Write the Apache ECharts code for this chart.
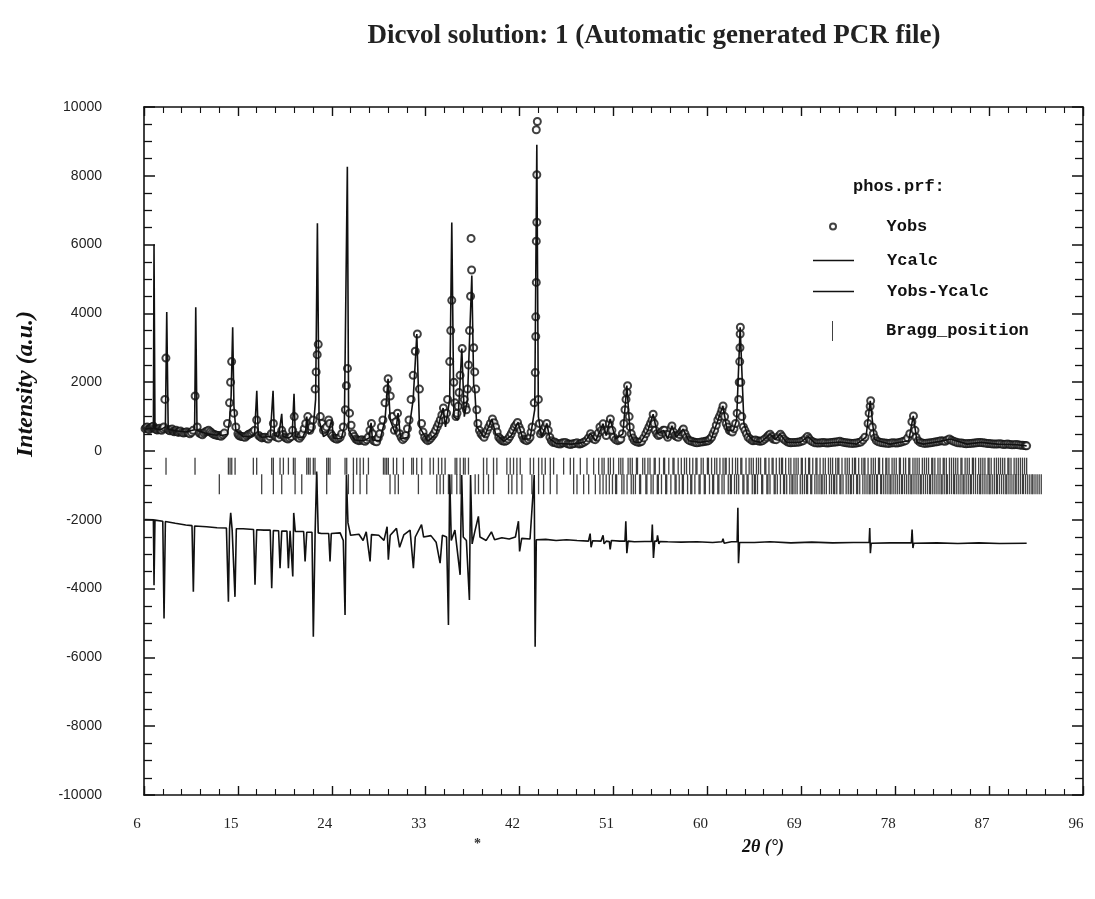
<!DOCTYPE html>
<html>
<head>
<meta charset="utf-8">
<script src="https://cdn.jsdelivr.net/npm/echarts@6/dist/echarts.min.js"></script>
<style>
  html, body { margin: 0; padding: 0; background: #fff; }
  #container { width: 1095px; height: 899px; }
</style>
</head>
<body>
<div id="container"></div>
<script>
// --- values ---
var titleText = 'Dicvol solution: 1 (Automatic generated PCR file)';
var yTicks = [-10000, -8000, -6000, -4000, -2000, 0, 2000, 4000, 6000, 8000, 10000];
var xTicks = [6, 15, 24, 33, 42, 51, 60, 69, 78, 87, 96];

// Yobs points [2theta, intensity]
var yobs = [
  [6.1,650],[6.2,680],[6.3,700],[6.4,640],[6.5,620],[6.6,660],[6.7,690],[6.8,700],[6.9,720],[7.0,660],
  [7.1,640],[7.2,620],[7.3,610],[7.4,640],[7.5,660],[7.6,620],[7.7,600],[7.8,650],[7.9,700],
  [8.0,1500],[8.1,2700],[8.3,620],[8.4,600],[8.5,590],[8.6,620],[8.7,640],[8.8,580],[8.9,560],[9.0,580],
  [9.1,600],[9.2,560],[9.3,540],[9.4,560],[9.5,580],[9.65,540],[9.8,520],[9.95,540],
  [10.1,560],[10.25,530],[10.4,500],[10.55,540],[10.7,600],[10.9,1600],[11.1,700],[11.3,520],[11.45,500],[11.6,470],
  [11.75,520],[11.9,560],[12.05,580],[12.2,600],[12.35,560],[12.5,520],[12.65,490],
  [12.8,470],[12.95,460],[13.1,450],[13.25,440],[13.4,430],[13.55,470],[13.7,520],[14.0,800],[14.2,1400],[14.3,2000],
  [14.4,2600],[14.6,1100],[14.8,700],[15.0,500],
  [15.1,450],[15.25,430],[15.4,420],[15.55,410],[15.7,400],[15.85,440],[16.0,480],[16.15,500],[16.3,520],[16.45,560],
  [16.6,600],[16.8,900],[17.0,450],[17.15,410],[17.3,380],[17.45,390],[17.6,400],[17.75,370],
  [17.9,350],[18.05,420],[18.2,500],[18.4,800],[18.6,420],[18.75,400],[18.9,380],[19.05,480],[19.2,600],[19.35,480],
  [19.5,400],[19.65,370],[19.8,350],[19.95,380],[20.1,420],[20.25,600],[20.4,1000],
  [20.6,450],[20.75,400],[20.9,370],[21.05,430],[21.2,500],[21.35,650],[21.5,800],[21.7,1000],[21.9,600],[22.05,700],
  [22.2,900],[22.4,1800],[22.5,2300],[22.6,2800],
  [22.7,3100],[22.9,1000],[23.05,800],[23.2,600],[23.35,650],[23.5,700],[23.7,900],[23.8,800],[23.9,500],[24.05,440],
  [24.2,380],[24.35,360],[24.5,340],[24.65,370],[24.8,400],[24.95,500],[25.1,700],
  [25.3,1200],[25.4,1900],[25.5,2400],[25.7,1100],[25.85,750],[26.0,500],[26.15,420],[26.3,350],[26.45,320],[26.6,300],
  [26.75,310],[26.9,330],[27.05,300],[27.2,280],[27.35,330],[27.5,400],[27.65,600],
  [27.8,800],[27.9,500],[28.0,300],[28.15,280],[28.3,270],[28.45,380],[28.6,500],[28.75,700],[28.9,900],[29.1,1400],
  [29.3,1800],[29.4,2100],[29.6,1600],[29.8,1000],
  [30.0,600],[30.15,850],[30.3,1100],[30.5,500],[30.65,400],[30.8,330],[30.95,380],[31.1,450],[31.25,650],[31.4,900],
  [31.6,1500],[31.8,2200],[32.0,2900],[32.2,3400],
  [32.4,1800],[32.6,800],[32.75,550],[32.9,400],[33.05,340],[33.2,300],[33.35,330],[33.5,380],[33.65,440],[33.8,500],
  [33.95,600],[34.1,700],[34.25,800],[34.4,900],[34.55,1050],[34.7,1250],[34.9,900],[35.0,1100],
  [35.1,1500],[35.3,2600],[35.4,3500],[35.5,4380],[35.7,2000],[35.8,1400],[35.9,1000],[36.0,1100],[36.1,1300],[36.2,1700],
  [36.3,2200],[36.5,2980],[36.7,1500],[36.8,1300],
  [36.9,1200],[37.0,1800],[37.1,2500],[37.2,3500],[37.3,4500],[37.4,5260],[37.35,6180],[37.6,3000],[37.7,2300],[37.8,1800],
  [37.9,1200],[38.0,800],[38.15,600],[38.3,500],[38.45,450],
  [38.6,400],[38.75,500],[38.9,600],[39.05,700],[39.2,800],[39.4,930],[39.55,820],[39.7,700],[39.85,550],[40.0,400],
  [40.15,350],[40.3,300],[40.45,290],[40.6,280],[40.75,300],[40.9,350],[41.05,420],[41.2,500],
  [41.35,600],[41.5,700],[41.65,760],[41.8,830],[41.95,700],[42.1,600],[42.25,450],[42.4,350],[42.55,320],[42.7,300],
  [42.85,340],[43.0,400],[43.1,550],[43.2,700],[43.4,1400],[43.5,2280],[43.55,3330],
  [43.55,3900],[43.6,4900],[43.6,6100],[43.65,6650],[43.65,8030],[43.6,9340],[43.7,9580],[43.8,1500],[43.9,800],[44.0,500],
  [44.15,550],[44.3,600],[44.45,700],
  [44.6,800],[44.75,600],[44.9,400],[45.05,300],[45.2,250],[45.35,260],[45.5,230],[45.7,210],[45.9,200],[46.05,230],
  [46.2,240],[46.4,250],[46.6,210],[46.75,200],[46.9,190],[47.1,210],[47.3,220],[47.5,240],[47.7,200],[47.85,210],
  [48.0,230],[48.2,260],[48.4,300],[48.6,380],[48.8,500],[48.95,420],[49.1,350],[49.25,330],[49.4,400],[49.55,520],
  [49.7,700],[49.85,600],[50.0,790],[50.15,550],[50.3,450],[50.45,600],[50.6,800],[50.7,930],[50.85,600],
  [51.0,400],[51.2,330],[51.4,300],[51.55,320],[51.7,350],[51.85,500],[52.0,800],[52.1,1200],[52.2,1500],[52.3,1700],
  [52.35,1900],[52.5,1000],[52.6,700],[52.7,500],[52.85,380],
  [53.0,300],[53.2,270],[53.4,250],[53.55,260],[53.7,280],[53.9,380],[54.1,500],[54.25,600],[54.4,700],[54.55,800],
  [54.7,900],[54.8,1070],[54.9,800],[55.0,600],[55.15,500],[55.3,450],[55.45,480],[55.6,550],[55.75,600],
  [55.9,600],[56.05,480],[56.2,400],[56.35,500],[56.5,650],[56.6,730],[56.75,550],[56.9,450],[57.05,420],[57.2,400],
  [57.35,480],[57.5,550],[57.6,600],[57.7,640],[57.85,500],[58.0,400],[58.15,330],[58.3,300],[58.5,280],
  [58.7,260],[58.85,250],[59.0,240],[59.2,250],[59.4,260],[59.6,270],[59.8,280],[59.95,290],[60.1,300],[60.25,350],
  [60.4,400],[60.55,500],[60.7,600],[60.85,750],[61.0,900],[61.15,1000],[61.3,1100],[61.4,1200],[61.5,1310],
  [61.65,1000],[61.8,800],[61.95,700],[62.1,600],[62.25,580],[62.4,550],[62.55,650],[62.7,800],[62.85,1100],[63.0,1500],
  [63.05,2000],[63.1,2600],[63.12,3000],[63.14,3400],[63.16,3600],[63.2,2000],
  [63.3,1000],[63.45,700],[63.6,600],[63.75,500],[63.9,400],[64.1,350],[64.3,300],[64.45,300],[64.6,320],[64.8,300],
  [65.0,280],[65.15,290],[65.3,300],[65.5,350],[65.7,400],[65.85,450],[66.0,490],[66.15,420],[66.3,350],[66.45,340],
  [66.6,330],[66.8,420],[67.0,490],[67.15,420],[67.3,350],[67.5,300],[67.7,260],[67.85,250],[68.0,240],[68.2,245],
  [68.4,250],[68.6,255],[68.8,260],[69.0,280],[69.2,300],[69.4,360],[69.6,420],[69.75,360],[69.9,300],[70.1,270],
  [70.3,240],[70.5,235],[70.7,230],[70.9,240],[71.1,250],[71.3,240],[71.5,230],[71.7,240],[71.9,250],[72.1,255],
  [72.3,260],[72.5,270],[72.7,280],[72.9,265],[73.1,250],[73.3,240],[73.5,230],[73.7,225],[73.9,220],[74.1,225],
  [74.3,230],[74.5,245],[74.7,260],[74.9,320],[75.1,400],[75.4,800],[75.5,1100],[75.6,1300],[75.65,1460],[75.8,700],
  [75.9,500],[76.05,380],[76.2,300],[76.4,270],[76.6,250],[76.8,240],
  [77.0,230],[77.2,225],[77.4,220],[77.6,230],[77.8,240],[78.0,235],[78.2,230],[78.4,245],[78.6,260],[78.8,280],
  [79.0,300],[79.2,380],[79.4,500],[79.6,850],[79.75,1020],[79.9,600],[80.0,400],[80.2,300],
  [80.4,250],[80.6,235],[80.8,220],[81.0,225],[81.2,230],[81.4,240],[81.6,250],[81.8,260],[82.0,270],[82.2,285],
  [82.4,300],[82.6,290],[82.8,280],[83.0,320],[83.2,350],[83.4,310],[83.6,280],[83.8,260],[84.0,240],[84.2,235],
  [84.4,230],[84.6,220],[84.8,210],[85.0,215],[85.2,220],[85.4,225],[85.6,230],[85.8,240],[86.0,250],[86.2,245],
  [86.4,240],[86.6,230],[86.8,220],[87.0,215],[87.2,210],[87.4,205],[87.6,200],[87.8,205],[88.0,210],[88.2,200],
  [88.4,190],[88.6,195],[88.8,200],[89.0,190],[89.2,180],[89.4,185],[89.6,190],[89.8,180],[90.0,170],[90.2,165],
  [90.4,160],[90.5,155],[90.6,150]
];

// Ycalc profile vertices [2theta, intensity]
var ycalc = [
  [6.1,640],[6.9,660],[6.96,6000],[7.05,650],[7.6,620],[8.05,700],[8.18,4040],[8.32,640],[9.0,590],[10.0,550],
  [10.85,620],[10.96,4180],[11.08,600],[12.0,500],[13.0,460],[13.2,520],[13.35,450],[14.0,480],[14.2,900],[14.35,1600],
  [14.5,3600],[14.62,1300],[14.8,600],[15.5,420],[16.3,430],[16.6,500],[16.81,1750],[16.95,480],[17.3,400],[18.1,420],
  [18.37,1750],[18.5,450],[18.9,420],[19.2,1080],[19.32,420],[19.9,380],[20.2,450],[20.38,1660],[20.5,420],[21.2,380],
  [21.5,600],[21.6,1000],[21.75,500],[22.2,600],[22.45,1500],[22.62,6620],[22.78,900],[23.2,420],[23.6,500],[24.0,900],
  [24.15,380],[24.9,350],[25.2,700],[25.49,8260],[25.62,600],[26.2,320],[27.0,300],[27.6,380],[27.76,820],[27.9,320],
  [28.6,300],[29.1,900],[29.39,2100],[29.6,900],[30.1,500],[30.35,1100],[30.6,350],[31.3,400],[31.8,1500],[32.15,3400],
  [32.4,700],[33.2,280],[34.0,500],[34.67,1250],[34.9,700],[35.3,1500],[35.5,6640],[35.7,1000],[36.1,900],[36.46,2980],
  [36.7,1000],[37.0,1500],[37.42,5100],[37.6,1900],[37.7,1800],[37.9,700],[38.6,400],[39.34,930],[39.7,500],[40.5,280],
  [41.2,450],[41.86,830],[42.3,350],[43.0,350],[43.45,1200],[43.65,8900],[43.8,1000],[44.1,400],[44.61,800],[44.9,350],
  [45.5,220],[47.0,200],[48.2,250],[48.8,500],[49.3,300],[50.0,790],[50.3,450],[50.68,930],[51.2,350],[51.9,500],
  [52.28,1900],[52.6,500],[53.0,260],[53.6,250],[54.3,600],[54.8,1070],[55.2,500],[55.8,600],[56.2,350],[56.59,730],
  [57.0,400],[57.68,640],[58.2,300],[59.3,250],[60.3,300],[60.9,800],[61.48,1310],[61.9,600],[62.5,600],[62.8,900],
  [63.14,3600],[63.5,800],[63.8,500],[64.4,300],[65.1,250],[66.02,490],[66.5,330],[66.98,490],[67.6,250],[68.9,250],
  [69.66,420],[70.3,230],[71.1,220],[72.7,260],[74.3,200],[75.2,400],[75.61,1460],[76.0,350],[76.3,300],[77.5,200],
  [79.3,300],[79.73,1020],[80.1,250],[80.7,200],[82.3,280],[83.3,350],[84.9,200],[86.2,250],[87.8,200],[89.7,180],
  [90.6,150]
];

// Yobs-Ycalc (shifted) vertices [2theta, intensity]
var ydiff = [
  [6.1,-1990],[6.9,-2000],[6.96,-3900],[7.05,-2010],[7.8,-2040],[7.92,-4870],[8.05,-2050],[9.0,-2100],[10.0,-2150],[10.6,-2170],
  [10.73,-4090],[10.85,-2180],[12.0,-2200],[13.0,-2230],[13.9,-2240],[14.09,-4380],[14.2,-2250],[14.31,-1800],[14.45,-2300],[14.72,-4240],
  [14.85,-2260],[15.5,-2260],[16.5,-2280],[16.64,-3890],[16.8,-2290],[17.5,-2300],[18.1,-2300],[18.24,-3990],[18.4,-2310],[18.9,-2320],
  [19.04,-3410],[19.2,-2330],[19.7,-2330],[19.84,-3410],[20.0,-2320],[20.26,-3650],[20.35,-1800],[20.5,-2340],[21.3,-2340],[21.44,-3210],
  [21.6,-2360],[22.1,-2360],[22.23,-5400],[22.4,-2380],[22.55,-600],[22.7,-2380],[23.0,-2400],[23.7,-2400],[23.83,-3210],[23.95,-2400],
  [24.8,-2380],[25.1,-2600],[25.27,-4770],[25.4,-700],[25.55,-2090],[25.8,-2450],[26.6,-2420],[27.0,-2600],[27.3,-2350],[27.67,-3210],
  [27.8,-2430],[28.5,-2450],[29.0,-2600],[29.3,-2200],[29.42,-3160],[29.6,-2450],[30.2,-2250],[30.5,-2800],[30.9,-2440],[31.5,-2300],
  [31.82,-3410],[32.0,-2500],[32.6,-2140],[32.8,-2500],[33.5,-2460],[34.0,-2650],[34.38,-3260],[34.6,-2450],[35.0,-2500],[35.18,-5060],
  [35.3,-680],[35.45,-2600],[35.8,-2300],[36.3,-3600],[36.45,-700],[36.6,-2500],[36.9,-2600],[37.19,-4330],[37.3,-700],[37.45,-2700],
  [37.7,-2350],[38.05,-1900],[38.2,-2500],[38.8,-2600],[39.3,-2350],[39.6,-2580],[40.3,-2520],[41.0,-2560],[41.6,-2500],[41.89,-2040],
  [42.0,-2920],[42.2,-2540],[43.0,-2560],[43.4,-700],[43.49,-5690],[43.6,-2580],[44.5,-2570],[45.5,-2600],[46.5,-2580],[47.5,-2600],
  [48.6,-2620],[48.7,-2620],[48.76,-2400],[48.85,-2800],[49.0,-2610],[49.8,-2620],[49.95,-2620],[50.0,-2450],[50.1,-2700],[50.3,-2620],
  [50.6,-2630],[50.68,-2860],[50.8,-2600],[51.6,-2620],[52.1,-2620],[52.18,-2040],[52.28,-2970],[52.4,-2620],[53.0,-2640],[54.0,-2630],
  [54.65,-2630],[54.72,-2140],[54.83,-3110],[54.95,-2620],[55.15,-2620],[55.22,-2450],[55.35,-2700],[55.45,-2630],[56.2,-2640],[57.5,-2650],
  [59.0,-2640],[60.5,-2660],[61.4,-2640],[61.5,-2550],[61.6,-2680],[62.3,-2640],[62.85,-2640],[62.92,-1650],[62.98,-3260],[63.08,-2660],
  [64.5,-2660],[66.0,-2640],[68.0,-2670],[70.0,-2650],[72.0,-2670],[74.0,-2660],[75.5,-2660],[75.56,-2240],[75.62,-2970],[75.7,-2680],
  [77.5,-2670],[79.55,-2670],[79.62,-2280],[79.7,-2820],[79.78,-2680],[82.0,-2670],[84.0,-2690],[86.0,-2670],[88.0,-2690],[90.6,-2680]
];

// Bragg reflection positions, two phases (two rows of ticks)
var braggA = [
  8.11,10.89,14.09,14.25,14.41,14.73,16.48,16.80,18.24,18.40,19.04,19.36,19.84,20.32,20.48,21.60,21.76,21.92,22.23,22.39,
  23.51,23.67,23.83,25.27,25.43,26.07,26.39,26.71,27.03,27.51,28.95,29.10,29.26,29.42,29.90,30.22,30.86,31.66,31.82,32.14,
  32.62,33.42,33.74,34.22,34.54,34.86,35.82,35.98,36.30,36.62,36.78,37.10,38.54,38.86,39.50,39.82,40.78,41.10,41.42,41.74,
  42.06,43.02,43.34,43.82,44.14,44.46,44.94,45.26,46.22,46.86,47.18,47.82,48.46,49.10,49.58,
  49.9,50.1,50.5,50.7,51.0,51.5,51.7,51.9,52.4,52.6,52.8,53.2,53.3,53.8,54.0,54.3,54.5,54.9,55.0,55.4,
  55.8,55.9,56.3,56.7,56.8,57.2,57.5,57.8,58.0,58.3,58.6,58.9,59.0,59.4,59.6,60.0,60.1,60.4,60.7,60.9,
  61.2,61.5,61.7,61.8,62.1,62.4,62.7,62.9,63.2,63.3,63.7,64.0,64.2,64.4,64.7,64.9,65.1,65.5,65.6,65.9,
  66.2,66.3,66.6,66.9,67.1,67.2,67.5,67.8,68.0,68.3,68.5,68.7,69.0,69.1,69.4,69.7,69.8,70.1,70.4,70.5,
  70.8,71.1,71.3,71.6,71.8,72.0,72.3,72.5,72.6,72.9,73.2,73.4,73.6,73.9,74.1,74.2,74.5,74.8,75.0,75.1,
  75.4,75.7,75.9,76.1,76.4,76.5,76.8,77.1,77.2,77.4,77.7,77.9,78.1,78.4,78.5,78.8,79.0,79.3,79.4,79.7,
  79.9,80.1,80.3,80.6,80.8,81.0,81.2,81.5,81.6,81.8,82.1,82.3,82.6,82.7,82.9,83.2,83.4,83.6,83.8,84.0,
  84.3,84.4,84.7,84.9,85.1,85.4,85.5,85.7,86.0,86.2,86.4,86.6,86.9,87.0,87.2,87.5,87.7,87.9,88.1,88.3,
  88.5,88.8,88.9,89.1,89.4,89.6,89.8,90.0,90.2,90.4,90.6
];
var braggB = [
  13.22,17.28,18.40,19.20,20.48,21.12,22.55,23.51,25.59,26.07,26.71,27.35,29.58,30.06,30.38,32.30,34.06,34.38,34.70,35.18,
  35.50,35.98,36.30,37.74,38.06,38.54,39.02,39.50,40.94,41.26,41.74,42.22,43.18,43.82,44.30,44.94,45.58,47.18,47.50,48.14,
  48.62,49.26,
  49.7,50.0,50.3,50.6,50.9,51.2,51.3,51.8,52.0,52.3,52.7,52.9,53.1,53.5,53.6,54.1,54.2,54.6,54.8,55.2,
  55.3,55.6,56.0,56.1,56.5,56.9,57.0,57.3,57.6,57.7,58.1,58.4,58.5,58.8,59.2,59.3,59.7,59.8,60.2,60.5,
  60.6,61.0,61.1,61.4,61.6,62.0,62.2,62.3,62.6,62.8,63.0,63.4,63.5,63.8,63.9,64.3,64.5,64.6,64.8,65.2,
  65.3,65.7,65.8,66.0,66.4,66.5,66.7,67.0,67.3,67.4,67.6,67.9,68.1,68.2,68.4,68.6,68.9,69.1,69.3,69.5,
  69.6,69.9,70.0,70.3,70.5,70.7,70.9,71.0,71.2,71.4,71.7,71.9,72.1,72.2,72.4,72.7,72.8,73.0,73.3,73.5,
  73.7,73.8,74.0,74.3,74.4,74.6,74.9,75.1,75.3,75.5,75.6,75.8,76.0,76.2,76.3,76.6,76.7,76.9,77.1,77.3,
  77.5,77.6,77.8,78.0,78.2,78.4,78.6,78.7,78.9,79.1,79.3,79.5,79.6,79.8,80.0,80.2,80.4,80.5,80.7,80.9,
  81.1,81.3,81.4,81.6,81.8,82.0,82.2,82.4,82.5,82.7,82.9,83.0,83.2,83.4,83.6,83.7,83.9,84.1,84.3,84.5,
  84.6,84.8,85.0,85.2,85.3,85.5,85.7,85.9,86.1,86.2,86.4,86.6,86.8,87.0,87.1,87.3,87.5,87.7,87.8,88.0,
  88.2,88.4,88.6,88.7,88.9,89.1,89.3,89.5,89.6,89.8,90.0,90.2,90.3,90.5,90.7,90.9,91.1,91.2,91.4,91.6,
  91.8,92.0
];
var braggRowY = [-440, -965];

window.onload = function () {
    var dom = document.getElementById("container");
    var myChart = echarts.init(dom, null, { renderer: 'canvas' });

    var serif = "'Liberation Serif', 'DejaVu Serif', serif";
    var mono = "'Liberation Mono', 'DejaVu Sans Mono', monospace";
    var ink = '#111';
    var legendText = { fontFamily: mono, fontSize: 17, fontWeight: 'bold', color: ink, padding: [0, 0, 0, 28] };
    var lineIcon = 'path://M0,0h40v1.6h-40z';

    var baseAxisX = {
        type: 'value', min: xTicks[0], max: xTicks[xTicks.length - 1], interval: 9,
        axisLine: { show: true, onZero: false, lineStyle: { color: ink, width: 1.6 } },
        axisTick: { show: true, inside: true, length: 9, lineStyle: { color: ink, width: 1.4 } },
        minorTick: { show: true, splitNumber: 5, length: 6, lineStyle: { color: ink, width: 1.1 } },
        splitLine: { show: false }
    };
    var baseAxisY = {
        type: 'value', min: yTicks[0], max: yTicks[yTicks.length - 1], interval: 2000,
        axisLine: { show: true, onZero: false, lineStyle: { color: ink, width: 1.6 } },
        axisTick: { show: true, inside: true, length: 11, lineStyle: { color: ink, width: 1.5 } },
        minorTick: { show: true, splitNumber: 4, length: 8, lineStyle: { color: ink, width: 1.3 } },
        splitLine: { show: false }
    };

    var option = {
        animation: false,
        backgroundColor: '#fff',
        grid: { left: 144, right: 12, top: 107, bottom: 104 },
        xAxis: [
            Object.assign({}, baseAxisX, {
                position: 'bottom',
                axisLabel: {
                    show: true, margin: 22, color: '#222',
                    fontFamily: serif, fontSize: 15,
                    padding: [0, 14, 0, 0]
                }
            }),
            Object.assign({}, baseAxisX, { position: 'top', axisLabel: { show: false } })
        ],
        yAxis: [
            Object.assign({}, baseAxisY, {
                position: 'left',
                axisLabel: {
                    show: true, margin: 42, color: '#222',
                    fontFamily: "'Liberation Sans', Arial, sans-serif", fontSize: 14,
                    formatter: function (v) { return String(v); }
                }
            }),
            Object.assign({}, baseAxisY, { position: 'right', axisLabel: { show: false } })
        ],
        legend: [
            {
                data: ['Yobs'], orient: 'vertical', left: 824, top: 213,
                itemWidth: 41, itemHeight: 6, selectedMode: false,
                textStyle: legendText
            },
            {
                data: [{ name: 'Ycalc', icon: lineIcon }, { name: 'Yobs-Ycalc', icon: lineIcon }],
                orient: 'vertical', left: 808, top: 247,
                itemWidth: 41, itemHeight: 14, itemGap: 14, selectedMode: false,
                itemStyle: { color: ink },
                textStyle: legendText
            },
            {
                data: [{ name: 'Bragg_position', icon: 'path://M0,0h1v20h-1z' }],
                orient: 'vertical', left: 827, top: 316,
                itemWidth: 41, itemHeight: 20, selectedMode: false,
                itemStyle: { color: ink },
                textStyle: legendText
            }
        ],
        graphic: [
            { type: 'text', x: 654, y: 23, style: { text: titleText, fill: '#222', font: 'bold 27px ' + serif, textAlign: 'center' } },
            { type: 'text', x: 853, y: 178, style: { text: 'phos.prf:', fill: ink, font: 'bold 17px ' + mono } },
            { type: 'text', x: 14, y: 457, rotation: Math.PI / 2, style: { text: 'Intensity (a.u.)', fill: ink, font: 'italic bold 24px ' + serif } },
            { type: 'text', x: 742, y: 838, style: { text: '2\u03b8 (\u00b0)', fill: ink, font: 'italic bold 18px ' + serif } },
            { type: 'text', x: 474, y: 837, style: { text: '*', fill: '#333', font: 'bold 14px ' + serif } }
        ],
        series: [
            {
                name: 'Yobs', type: 'scatter', xAxisIndex: 0, yAxisIndex: 0,
                symbol: 'emptyCircle', symbolSize: 7,
                itemStyle: { color: ink, borderColor: ink, borderWidth: 1.4 },
                data: yobs, z: 2
            },
            {
                name: 'Ycalc', type: 'line', xAxisIndex: 0, yAxisIndex: 0,
                symbol: 'none', color: ink,
                lineStyle: { color: ink, width: 1.6 },
                data: ycalc, z: 3
            },
            {
                name: 'Yobs-Ycalc', type: 'line', xAxisIndex: 0, yAxisIndex: 0,
                symbol: 'none', color: ink,
                lineStyle: { color: ink, width: 1.6 },
                data: ydiff, z: 3
            },
            {
                name: 'Bragg_position', type: 'scatter', xAxisIndex: 0, yAxisIndex: 0,
                symbol: 'rect', symbolSize: [1.3, 17],
                itemStyle: { color: ink },
                data: braggA.map(function (x) { return [x, braggRowY[0]]; }), z: 2
            },
            {
                name: 'Bragg_position', type: 'scatter', xAxisIndex: 0, yAxisIndex: 0,
                symbol: 'rect', symbolSize: [1.3, 20],
                itemStyle: { color: ink },
                data: braggB.map(function (x) { return [x, braggRowY[1]]; }), z: 2
            }
        ]
    };
    myChart.setOption(option);
};
</script>
</body>
</html>
